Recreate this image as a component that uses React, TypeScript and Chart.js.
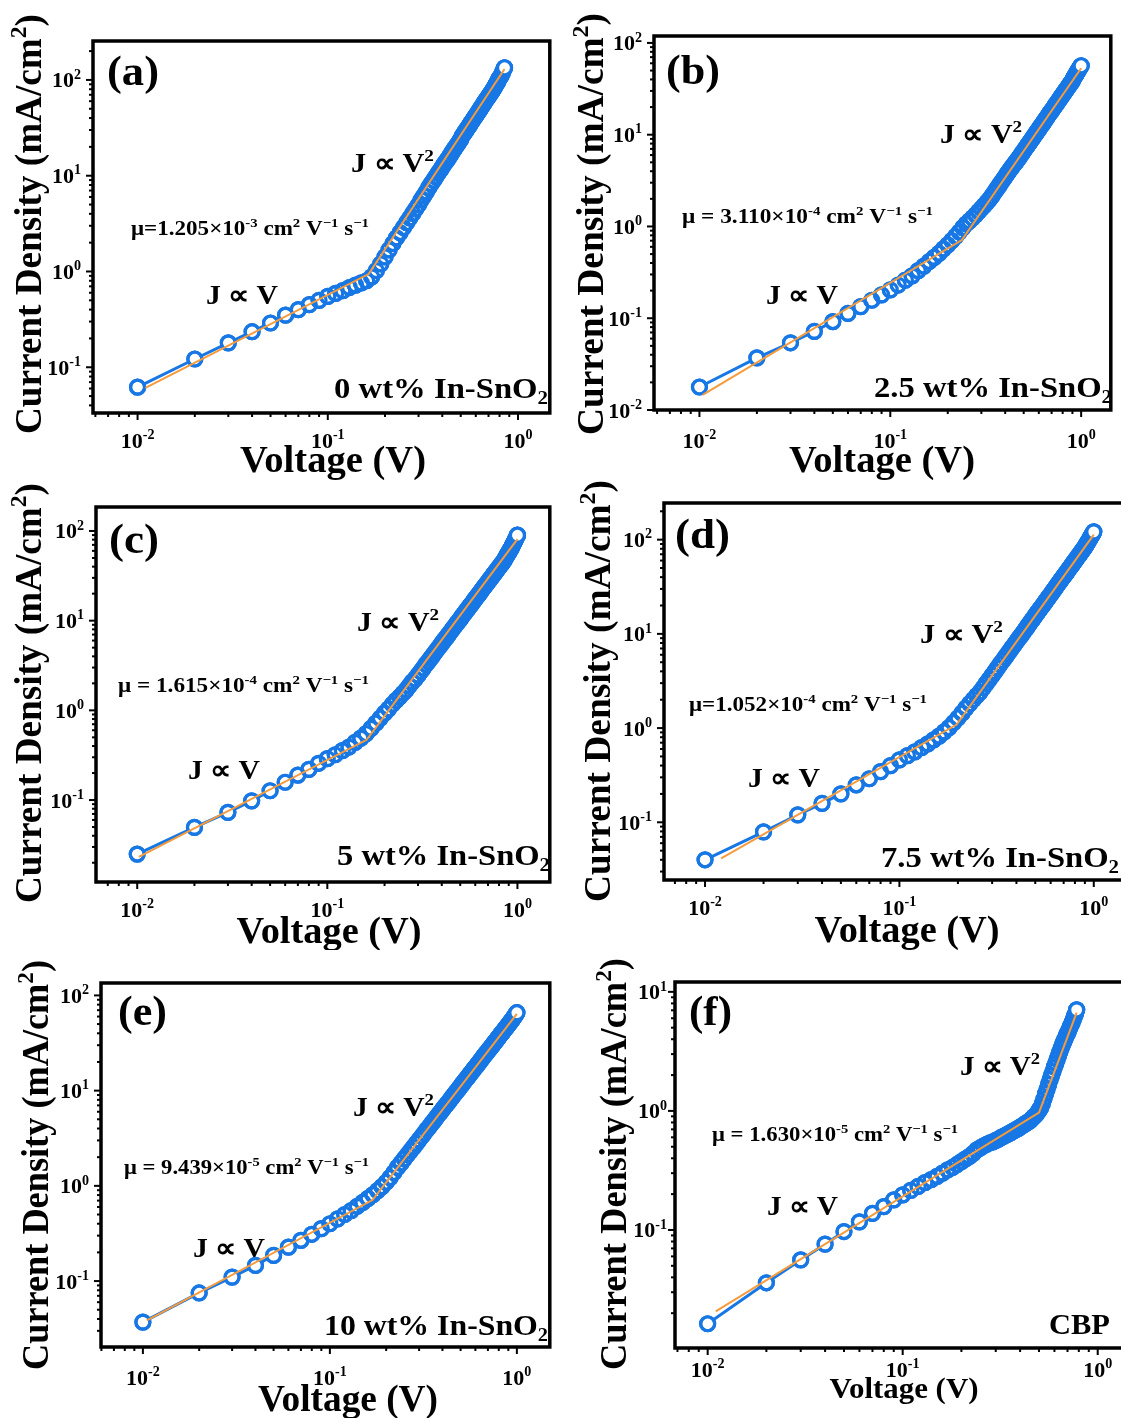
import React, { useEffect, useRef } from "react";
import { Chart, registerables } from "chart.js";

Chart.register(...registerables);

// ---------------- DATA ----------------
const VOLTAGE = [
  0.01, 0.02, 0.03, 0.04, 0.05, 0.06, 0.07, 0.08, 0.09, 0.1,
  0.11, 0.12, 0.13, 0.14, 0.15, 0.16, 0.17, 0.18, 0.19, 0.2,
  0.21, 0.22, 0.23, 0.24, 0.25, 0.26, 0.27, 0.28, 0.29, 0.3,
  0.31, 0.32, 0.33, 0.34, 0.35, 0.36, 0.37, 0.38, 0.39, 0.4,
  0.41, 0.42, 0.43, 0.44, 0.45, 0.46, 0.47, 0.48, 0.49, 0.5,
  0.51, 0.52, 0.53, 0.54, 0.55, 0.56, 0.57, 0.58, 0.59, 0.6,
  0.61, 0.62, 0.63, 0.64, 0.65, 0.66, 0.67, 0.68, 0.69, 0.7,
  0.71, 0.72, 0.73, 0.74, 0.75, 0.76, 0.77, 0.78, 0.79, 0.8,
  0.81, 0.82, 0.83, 0.84, 0.85, 0.86, 0.87, 0.88, 0.89, 0.9,
  0.91, 0.92, 0.93, 0.94, 0.95, 0.96, 0.97, 0.98, 0.99, 1.0,
];

// Current density (mA/cm2), one value per voltage step
const J_A = [
  0.062, 0.122, 0.18, 0.235, 0.29, 0.35, 0.4, 0.45, 0.5, 0.55,
  0.59, 0.63, 0.68, 0.72, 0.76, 0.8, 0.88, 1.02, 1.2, 1.42,
  1.68, 1.96, 2.25, 2.55, 2.88, 3.24, 3.62, 4.05, 4.49, 4.97,
  5.6, 6.17, 6.79, 7.55, 8.26, 8.97, 9.73, 10.6, 11.4, 12.3,
  13.3, 14.2, 15.2, 16.3, 17.5, 18.7, 19.9, 21.2, 22.5, 24.0,
  26.1, 27.6, 29.2, 30.8, 32.6, 34.4, 36.4, 38.2, 40.3, 42.3,
  44.4, 46.6, 48.9, 51.3, 53.8, 56.5, 58.9, 61.8, 64.4, 67.1,
  70.0, 72.9, 76.0, 79.1, 82.4, 86.9, 91.0, 94.8, 100, 105,
  108, 114, 120, 127, 134,
];
const J_B = [
  0.0178, 0.037, 0.054, 0.072, 0.092, 0.113, 0.134, 0.157, 0.18, 0.204,
  0.23, 0.26, 0.29, 0.33, 0.37, 0.415, 0.46, 0.51, 0.57, 0.63,
  0.7, 0.78, 0.87, 0.97, 1.07, 1.15, 1.24, 1.34, 1.45, 1.57,
  1.69, 1.82, 1.96, 2.13, 2.33, 2.54, 2.75, 2.99, 3.23, 3.48,
  3.76, 4.03, 4.32, 4.62, 4.9, 5.19, 5.52, 5.87, 6.25, 6.65,
  7.08, 7.48, 7.91, 8.36, 8.83, 9.33, 9.86, 10.4, 10.9, 11.5,
  12.1, 12.6, 13.3, 13.9, 14.6, 15.3, 16.0, 16.8, 17.5, 18.2,
  19.0, 19.8, 20.7, 21.5, 22.4, 23.4, 24.2, 25.2, 26.3, 27.2,
  28.2, 29.4, 30.4, 31.5, 32.6, 33.7, 35.2, 36.1, 37.4, 38.7,
  40.6, 42.5, 43.7, 45.7, 47.3, 49.2, 50.9, 53.0, 54.8, 56.4,
];
const J_C = [
  0.025, 0.0495, 0.073, 0.098, 0.127, 0.158, 0.19, 0.22, 0.257, 0.29,
  0.32, 0.355, 0.39, 0.44, 0.49, 0.55, 0.63, 0.72, 0.82, 0.93,
  1.04, 1.17, 1.29, 1.41, 1.55, 1.69, 1.88, 2.08, 2.24, 2.47,
  2.71, 2.96, 3.25, 3.52, 3.82, 4.13, 4.47, 4.83, 5.19, 5.57,
  5.98, 6.38, 6.81, 7.28, 7.76, 8.28, 8.77, 9.31, 9.86, 10.4,
  11.1, 11.7, 12.3, 13.0, 13.6, 14.4, 15.1, 15.8, 16.7, 17.5,
  18.3, 19.1, 20.0, 20.9, 21.9, 23.0, 23.9, 24.9, 25.9, 27.0,
  28.1, 29.2, 30.3, 31.6, 32.8, 34.1, 35.2, 36.6, 38.1, 39.4,
  40.6, 42.3, 43.6, 45.1, 46.6, 48.6, 51.2, 53.1, 55.5, 57.4,
  60.0, 62.7, 65.0, 67.9, 71.8, 74.6, 78.0, 81.8, 85.5, 89.7,
];
const J_D = [
  0.04, 0.079, 0.12, 0.159, 0.2, 0.25, 0.29, 0.345, 0.4, 0.46,
  0.51, 0.56, 0.62, 0.68, 0.75, 0.82, 0.91, 1.01, 1.14, 1.28,
  1.44, 1.63, 1.82, 2.01, 2.21, 2.41, 2.68, 2.98, 3.29, 3.62,
  3.97, 4.36, 4.78, 5.18, 5.64, 6.1, 6.59, 7.14, 7.67, 8.24,
  8.87, 9.46, 10.1, 10.8, 11.5, 12.3, 13.1, 13.9, 14.7, 15.6,
  16.6, 17.5, 18.4, 19.4, 20.4, 21.5, 22.7, 23.8, 25.1, 26.2,
  27.5, 28.8, 30.1, 31.6, 33.0, 34.6, 36.0, 37.7, 39.2, 40.7,
  42.4, 44.1, 45.8, 47.8, 49.7, 51.6, 53.3, 55.5, 57.7, 59.7,
  61.7, 64.1, 66.2, 68.5, 70.8, 73.1, 76.0, 78.2, 80.7, 83.4,
  86.3, 90.2, 93.5, 96.8, 101, 105, 109, 113, 116, 121,
];
const J_E = [
  0.037, 0.075, 0.11, 0.146, 0.186, 0.227, 0.268, 0.31, 0.355, 0.4,
  0.45, 0.5, 0.55, 0.61, 0.67, 0.74, 0.81, 0.89, 0.98, 1.09,
  1.22, 1.38, 1.56, 1.73, 1.92, 2.12, 2.33, 2.55, 2.79, 3.04,
  3.3, 3.58, 3.89, 4.17, 4.5, 4.82, 5.18, 5.55, 5.92, 6.31,
  6.73, 7.13, 7.55, 8.02, 8.49, 8.99, 9.48, 10.0, 10.5, 11.1,
  11.7, 12.3, 12.9, 13.5, 14.1, 14.8, 15.5, 16.1, 16.9, 17.6,
  18.3, 19.1, 19.9, 20.7, 21.6, 22.5, 23.3, 24.3, 25.1, 26.0,
  27.0, 27.9, 28.9, 29.9, 31.0, 32.1, 33.0, 34.2, 35.5, 36.5,
  37.6, 38.9, 40.1, 41.2, 42.5, 43.8, 45.3, 46.3, 47.8, 49.2,
  50.6, 52.1, 53.3, 55.0, 56.5, 58.2, 60.3, 61.9, 64.0, 65.8,
];
const J_F = [
  0.0163, 0.036, 0.056, 0.076, 0.097, 0.117, 0.138, 0.157, 0.179, 0.197,
  0.215, 0.232, 0.25, 0.265, 0.282, 0.3, 0.32, 0.335, 0.355, 0.375,
  0.395, 0.415, 0.44, 0.47, 0.49, 0.51, 0.525, 0.54, 0.55, 0.565,
  0.58, 0.6, 0.615, 0.63, 0.645, 0.66, 0.68, 0.695, 0.71, 0.73,
  0.75, 0.77, 0.79, 0.81, 0.83, 0.86, 0.89, 0.92, 0.96, 1.01,
  1.06, 1.15, 1.26, 1.39, 1.52, 1.67, 1.83, 1.99, 2.15, 2.34,
  2.51, 2.72, 2.92, 3.14, 3.37, 3.61, 3.8, 4.03, 4.29, 4.5,
  4.73, 5.02, 5.27, 5.55, 5.89, 6.25, 6.58, 7.06,
];

// Two-segment fits (J ∝ V, then J ∝ V²): [voltage], [current density]
const FIT_A_V = [0.011, 0.164, 0.85];
const FIT_A_J = [0.061, 0.94, 130];
const FIT_B_V = [0.0104, 0.237, 1.0];
const FIT_B_J = [0.0146, 0.71, 53];
const FIT_C_V = [0.0102, 0.161, 1.0];
const FIT_C_J = [0.0232, 0.47, 81];
const FIT_D_V = [0.0121, 0.197, 1.0];
const FIT_D_J = [0.0414, 1.09, 113];
const FIT_E_V = [0.0105, 0.169, 1.0];
const FIT_E_J = [0.0386, 0.71, 64];
const FIT_F_V = [0.011, 0.5, 0.78];
const FIT_F_J = [0.0207, 0.97, 6.7];

// Axis ranges
const X_RANGE_A = [0.00583, 1.47];
const Y_RANGE_A = [0.0333, 255];
const X_RANGE_B = [0.00578, 1.43];
const Y_RANGE_B = [0.01, 119];
const X_RANGE_C = [0.00607, 1.48];
const Y_RANGE_C = [0.0122, 185];
const X_RANGE_D = [0.00615, 1.5];
const Y_RANGE_D = [0.0244, 245];
const X_RANGE_E = [0.00597, 1.5];
const Y_RANGE_E = [0.0203, 135];
const X_RANGE_F = [0.0068, 1.43];
const Y_RANGE_F = [0.0102, 12.1];

// Text labels
const PANEL_LABELS = ["(a)", "(b)", "(c)", "(d)", "(e)", "(f)"];
const SAMPLE_NAMES = ["0 wt% In-SnO", "2.5 wt% In-SnO", "5 wt% In-SnO", "7.5 wt% In-SnO", "10 wt% In-SnO", "CBP"];
const MOBILITY_TEXT = ["μ=1.205×10", "μ = 3.110×10", "μ = 1.615×10", "μ=1.052×10", "μ = 9.439×10", "μ = 1.630×10"];
const MOBILITY_EXP = ["-3", "-4", "-4", "-4", "-5", "-5"];
const X_TITLE = "Voltage (V)";
const Y_TITLE = "Current Density (mA/cm";

// ---------------- STYLE ----------------
const BLUE = "#1777E5";
const ORANGE = "#F59B3C";
const FAMILY = '"Liberation Serif", "Times New Roman", Times, serif';

type Seg = [string, "n" | "sup" | "sub"];

function fontFor(size: number) {
  return `bold ${size}px ${FAMILY}`;
}
function segSize(size: number, k: string) {
  return k === "n" ? size : size * 0.64;
}
function segRise(size: number, k: string) {
  return k === "sup" ? -size * 0.4 : k === "sub" ? size * 0.2 : 0;
}
function measureRich(ctx: CanvasRenderingContext2D, segs: Seg[], size: number) {
  let w = 0;
  for (const [t, k] of segs) {
    ctx.font = fontFor(segSize(size, k));
    w += ctx.measureText(t).width;
  }
  return w;
}
function drawRich(
  ctx: CanvasRenderingContext2D,
  segs: Seg[],
  x: number,
  y: number,
  size: number,
  align: "left" | "right" | "center",
  targetW?: number
) {
  const w = measureRich(ctx, segs, size);
  const sx = targetW ? targetW / w : 1;
  const total = w * sx;
  const x0 = align === "left" ? x : align === "right" ? x - total : x - total / 2;
  ctx.save();
  ctx.translate(x0, y);
  ctx.scale(sx, 1);
  ctx.fillStyle = "#000";
  ctx.textAlign = "left";
  ctx.textBaseline = "alphabetic";
  let cx = 0;
  for (const [t, k] of segs) {
    ctx.font = fontFor(segSize(size, k));
    ctx.fillText(t, cx, segRise(size, k));
    cx += ctx.measureText(t).width;
  }
  ctx.restore();
}

function logTicks(min: number, max: number) {
  const out: { v: number; major: boolean }[] = [];
  const e0 = Math.floor(Math.log10(min));
  const e1 = Math.ceil(Math.log10(max));
  for (let e = e0; e <= e1; e++) {
    for (let m = 1; m <= 9; m++) {
      const v = m * Math.pow(10, e);
      if (v >= min * 0.9999 && v <= max * 1.0001) out.push({ v, major: m === 1 });
    }
  }
  return out;
}

type TextItem = { segs: Seg[]; x: number; y: number; size: number; align: "left" | "right" | "center"; w: number };

type PanelCfg = {
  key: string;
  left: number;
  top: number;
  width: number;
  height: number;
  area: { l: number; t: number; r: number; b: number };
  xRange: number[];
  yRange: number[];
  J: number[];
  fitV: number[];
  fitJ: number[];
  xTickBase: number;
  yTickGap: number;
  xTitle: { cx: number; base: number; size: number; w: number };
  yTitle: { bx: number; cy: number; size: number; len: number };
  texts: TextItem[];
};

function panelTexts(i: number, p: {
  lab: [number, number, number];
  v2: [number, number, number];
  v1: [number, number, number];
  mu: [number, number, number];
  smp: [number, number, number];
}): TextItem[] {
  return [
    { segs: [[PANEL_LABELS[i], "n"]], x: p.lab[0], y: p.lab[1], size: 42, align: "left", w: p.lab[2] },
    { segs: [["J ∝ V", "n"], ["2", "sup"]], x: p.v2[0], y: p.v2[1], size: 27, align: "left", w: p.v2[2] },
    { segs: [["J ∝ V", "n"]], x: p.v1[0], y: p.v1[1], size: 27, align: "left", w: p.v1[2] },
    {
      segs: [
        [MOBILITY_TEXT[i], "n"], [MOBILITY_EXP[i], "sup"], [" cm", "n"], ["2", "sup"],
        [" V", "n"], ["−1", "sup"], [" s", "n"], ["−1", "sup"],
      ],
      x: p.mu[0], y: p.mu[1], size: 20, align: "left", w: p.mu[2],
    },
    {
      segs: i === 5 ? [[SAMPLE_NAMES[i], "n"]] : [[SAMPLE_NAMES[i], "n"], ["2", "sub"]],
      x: p.smp[0], y: p.smp[1], size: 30, align: "right", w: p.smp[2],
    },
  ];
}

const PANELS: PanelCfg[] = [
  {
    key: "a", left: 0, top: 0, width: 560, height: 480,
    area: { l: 93, t: 41, r: 555, b: 413 },
    xRange: X_RANGE_A, yRange: Y_RANGE_A, J: J_A, fitV: FIT_A_V, fitJ: FIT_A_J,
    xTickBase: 448, yTickGap: 12,
    xTitle: { cx: 333, base: 472, size: 37, w: 186 },
    yTitle: { bx: 41, cy: 224, size: 37, len: 420 },
    texts: panelTexts(0, { lab: [107, 85, 52], v2: [351, 172, 83], v1: [206, 304, 72], mu: [131, 235, 238], smp: [548, 398, 214] }),
  },
  {
    key: "b", left: 560, top: 0, width: 561, height: 480,
    area: { l: 94, t: 36, r: 557, b: 410 },
    xRange: X_RANGE_B, yRange: Y_RANGE_B, J: J_B, fitV: FIT_B_V, fitJ: FIT_B_J,
    xTickBase: 448, yTickGap: 12,
    xTitle: { cx: 322, base: 472, size: 37, w: 186 },
    yTitle: { bx: 43, cy: 224, size: 37, len: 422 },
    texts: panelTexts(1, { lab: [106, 84, 54], v2: [380, 143, 82], v1: [206, 304, 72], mu: [122, 223, 251], smp: [552, 397, 238] }),
  },
  {
    key: "c", left: 0, top: 480, width: 560, height: 470,
    area: { l: 96, t: 27, r: 558, b: 402 },
    xRange: X_RANGE_C, yRange: Y_RANGE_C, J: J_C, fitV: FIT_C_V, fitJ: FIT_C_J,
    xTickBase: 437, yTickGap: 12,
    xTitle: { cx: 329, base: 463, size: 37, w: 185 },
    yTitle: { bx: 41, cy: 213, size: 37, len: 420 },
    texts: panelTexts(2, { lab: [109, 73, 50], v2: [357, 151, 82], v1: [188, 299, 72], mu: [118, 212, 251], smp: [550, 385, 213] }),
  },
  {
    key: "d", left: 560, top: 480, width: 580, height: 470,
    area: { l: 104, t: 23, r: 568, b: 400 },
    xRange: X_RANGE_D, yRange: Y_RANGE_D, J: J_D, fitV: FIT_D_V, fitJ: FIT_D_J,
    xTickBase: 435, yTickGap: 12,
    xTitle: { cx: 347, base: 462, size: 37, w: 185 },
    yTitle: { bx: 50, cy: 211, size: 37, len: 422 },
    texts: panelTexts(3, { lab: [115, 68, 55], v2: [360, 163, 83], v1: [188, 307, 72], mu: [129, 231, 238], smp: [559, 387, 238] }),
  },
  {
    key: "e", left: 0, top: 950, width: 560, height: 468,
    area: { l: 101, t: 33, r: 556, b: 397 },
    xRange: X_RANGE_E, yRange: Y_RANGE_E, J: J_E, fitV: FIT_E_V, fitJ: FIT_E_J,
    xTickBase: 435, yTickGap: 12,
    xTitle: { cx: 348, base: 461, size: 37, w: 180 },
    yTitle: { bx: 48, cy: 215, size: 37, len: 410 },
    texts: panelTexts(4, { lab: [118, 75, 49], v2: [353, 166, 81], v1: [193, 307, 72], mu: [124, 224, 245], smp: [548, 385, 224] }),
  },
  {
    key: "f", left: 560, top: 950, width: 580, height: 468,
    area: { l: 115, t: 32, r: 568, b: 398 },
    xRange: X_RANGE_F, yRange: Y_RANGE_F, J: J_F, fitV: FIT_F_V, fitJ: FIT_F_J,
    xTickBase: 427, yTickGap: 8,
    xTitle: { cx: 344, base: 448, size: 30, w: 149 },
    yTitle: { bx: 66, cy: 214, size: 37, len: 412 },
    texts: panelTexts(5, { lab: [129, 75, 43], v2: [400, 125, 80], v1: [207, 265, 71], mu: [152, 191, 246], smp: [550, 384, 61] }),
  },
];

function makeDecorPlugin(cfg: PanelCfg) {
  return {
    id: "decor_" + cfg.key,
    afterDraw(chart: any) {
      const ctx: CanvasRenderingContext2D = chart.ctx;
      const ca = chart.chartArea;
      const xs = chart.scales.x;
      const ys = chart.scales.y;
      ctx.save();
      ctx.strokeStyle = "#000";
      ctx.lineWidth = 2;
      for (const t of logTicks(xs.min, xs.max)) {
        const px = xs.getPixelForValue(t.v);
        const len = t.major ? 7 : 4;
        ctx.beginPath();
        ctx.moveTo(px, ca.bottom);
        ctx.lineTo(px, ca.bottom + len);
        ctx.stroke();
      }
      for (const t of logTicks(ys.min, ys.max)) {
        const py = ys.getPixelForValue(t.v);
        const len = t.major ? 7 : 4;
        ctx.beginPath();
        ctx.moveTo(ca.left, py);
        ctx.lineTo(ca.left - len, py);
        ctx.stroke();
      }
      ctx.lineWidth = 3.5;
      ctx.strokeRect(ca.left, ca.top, ca.right - ca.left, ca.bottom - ca.top);
      ctx.restore();

      for (const t of logTicks(xs.min, xs.max)) {
        if (!t.major) continue;
        const px = xs.getPixelForValue(t.v);
        const ex = String(Math.round(Math.log10(t.v)));
        drawRich(ctx, [["10", "n"], [ex, "sup"]], px, cfg.xTickBase, 22, "center");
      }
      for (const t of logTicks(ys.min, ys.max)) {
        if (!t.major) continue;
        const py = ys.getPixelForValue(t.v);
        const ex = String(Math.round(Math.log10(t.v)));
        drawRich(ctx, [["10", "n"], [ex, "sup"]], ca.left - cfg.yTickGap, py + 7.5, 22, "right");
      }

      drawRich(ctx, [[X_TITLE, "n"]], cfg.xTitle.cx, cfg.xTitle.base, cfg.xTitle.size, "center", cfg.xTitle.w);
      ctx.save();
      ctx.translate(cfg.yTitle.bx, cfg.yTitle.cy);
      ctx.rotate(-Math.PI / 2);
      drawRich(ctx, [[Y_TITLE, "n"], ["2", "sup"], [")", "n"]], 0, 0, cfg.yTitle.size, "center", cfg.yTitle.len);
      ctx.restore();

      for (const t of cfg.texts) {
        drawRich(ctx, t.segs, t.x, t.y, t.size, t.align, t.w);
      }
    },
  };
}

function Panel({ cfg }: { cfg: PanelCfg }) {
  const ref = useRef<HTMLCanvasElement | null>(null);
  useEffect(() => {
    const canvas = ref.current;
    if (!canvas) return;
    const dataPts = cfg.J.map((j, i) => ({ x: VOLTAGE[i], y: j }));
    const fitPts = cfg.fitV.map((v, i) => ({ x: v, y: cfg.fitJ[i] }));
    const lastPt = [dataPts[dataPts.length - 1]];
    const xh = cfg.height - cfg.area.b;
    const yw = cfg.area.l;
    const chart = new Chart(canvas, {
      type: "scatter",
      data: {
        datasets: [
          {
            label: "fit",
            data: fitPts,
            showLine: true,
            borderColor: ORANGE,
            backgroundColor: ORANGE,
            borderWidth: 2,
            pointRadius: 0,
            order: 0,
          },
          {
            label: "end",
            data: lastPt,
            showLine: false,
            pointRadius: 7,
            pointBorderWidth: 3.2,
            pointBorderColor: BLUE,
            pointBackgroundColor: "#ffffff",
            order: 1,
          },
          {
            label: "rings",
            data: dataPts,
            showLine: false,
            pointRadius: 7,
            pointBorderWidth: 3.2,
            pointBorderColor: BLUE,
            pointBackgroundColor: "rgba(255,255,255,0)",
            order: 2,
          },
          {
            label: "data",
            data: dataPts,
            showLine: true,
            borderColor: BLUE,
            borderWidth: 3,
            pointRadius: 7,
            pointBorderWidth: 3.2,
            pointBorderColor: BLUE,
            pointBackgroundColor: "#ffffff",
            order: 3,
          },
        ],
      },
      options: {
        responsive: false,
        animation: false,
        devicePixelRatio: 1,
        events: [],
        layout: { padding: { top: cfg.area.t, right: cfg.width - cfg.area.r, left: 0, bottom: 0 } },
        plugins: { legend: { display: false }, tooltip: { enabled: false }, title: { display: false } },
        scales: {
          x: {
            type: "logarithmic",
            min: cfg.xRange[0],
            max: cfg.xRange[1],
            ticks: { display: false },
            grid: { display: false },
            border: { display: false },
            afterFit: (s: any) => {
              s.height = xh;
            },
          },
          y: {
            type: "logarithmic",
            min: cfg.yRange[0],
            max: cfg.yRange[1],
            ticks: { display: false },
            grid: { display: false },
            border: { display: false },
            afterFit: (s: any) => {
              s.width = yw;
            },
          },
        },
      } as any,
      plugins: [makeDecorPlugin(cfg)],
    });
    return () => {
      chart.destroy();
    };
  }, [cfg]);
  return (
    <canvas
      ref={ref}
      width={cfg.width}
      height={cfg.height}
      style={{ position: "absolute", left: cfg.left, top: cfg.top, width: cfg.width, height: cfg.height }}
    />
  );
}

export default function App() {
  return (
    <div
      style={{
        position: "absolute",
        left: 0,
        top: 0,
        width: 1121,
        height: 1418,
        overflow: "hidden",
        background: "#ffffff",
      }}
    >
      {PANELS.map((p) => (
        <Panel key={p.key} cfg={p} />
      ))}
    </div>
  );
}
